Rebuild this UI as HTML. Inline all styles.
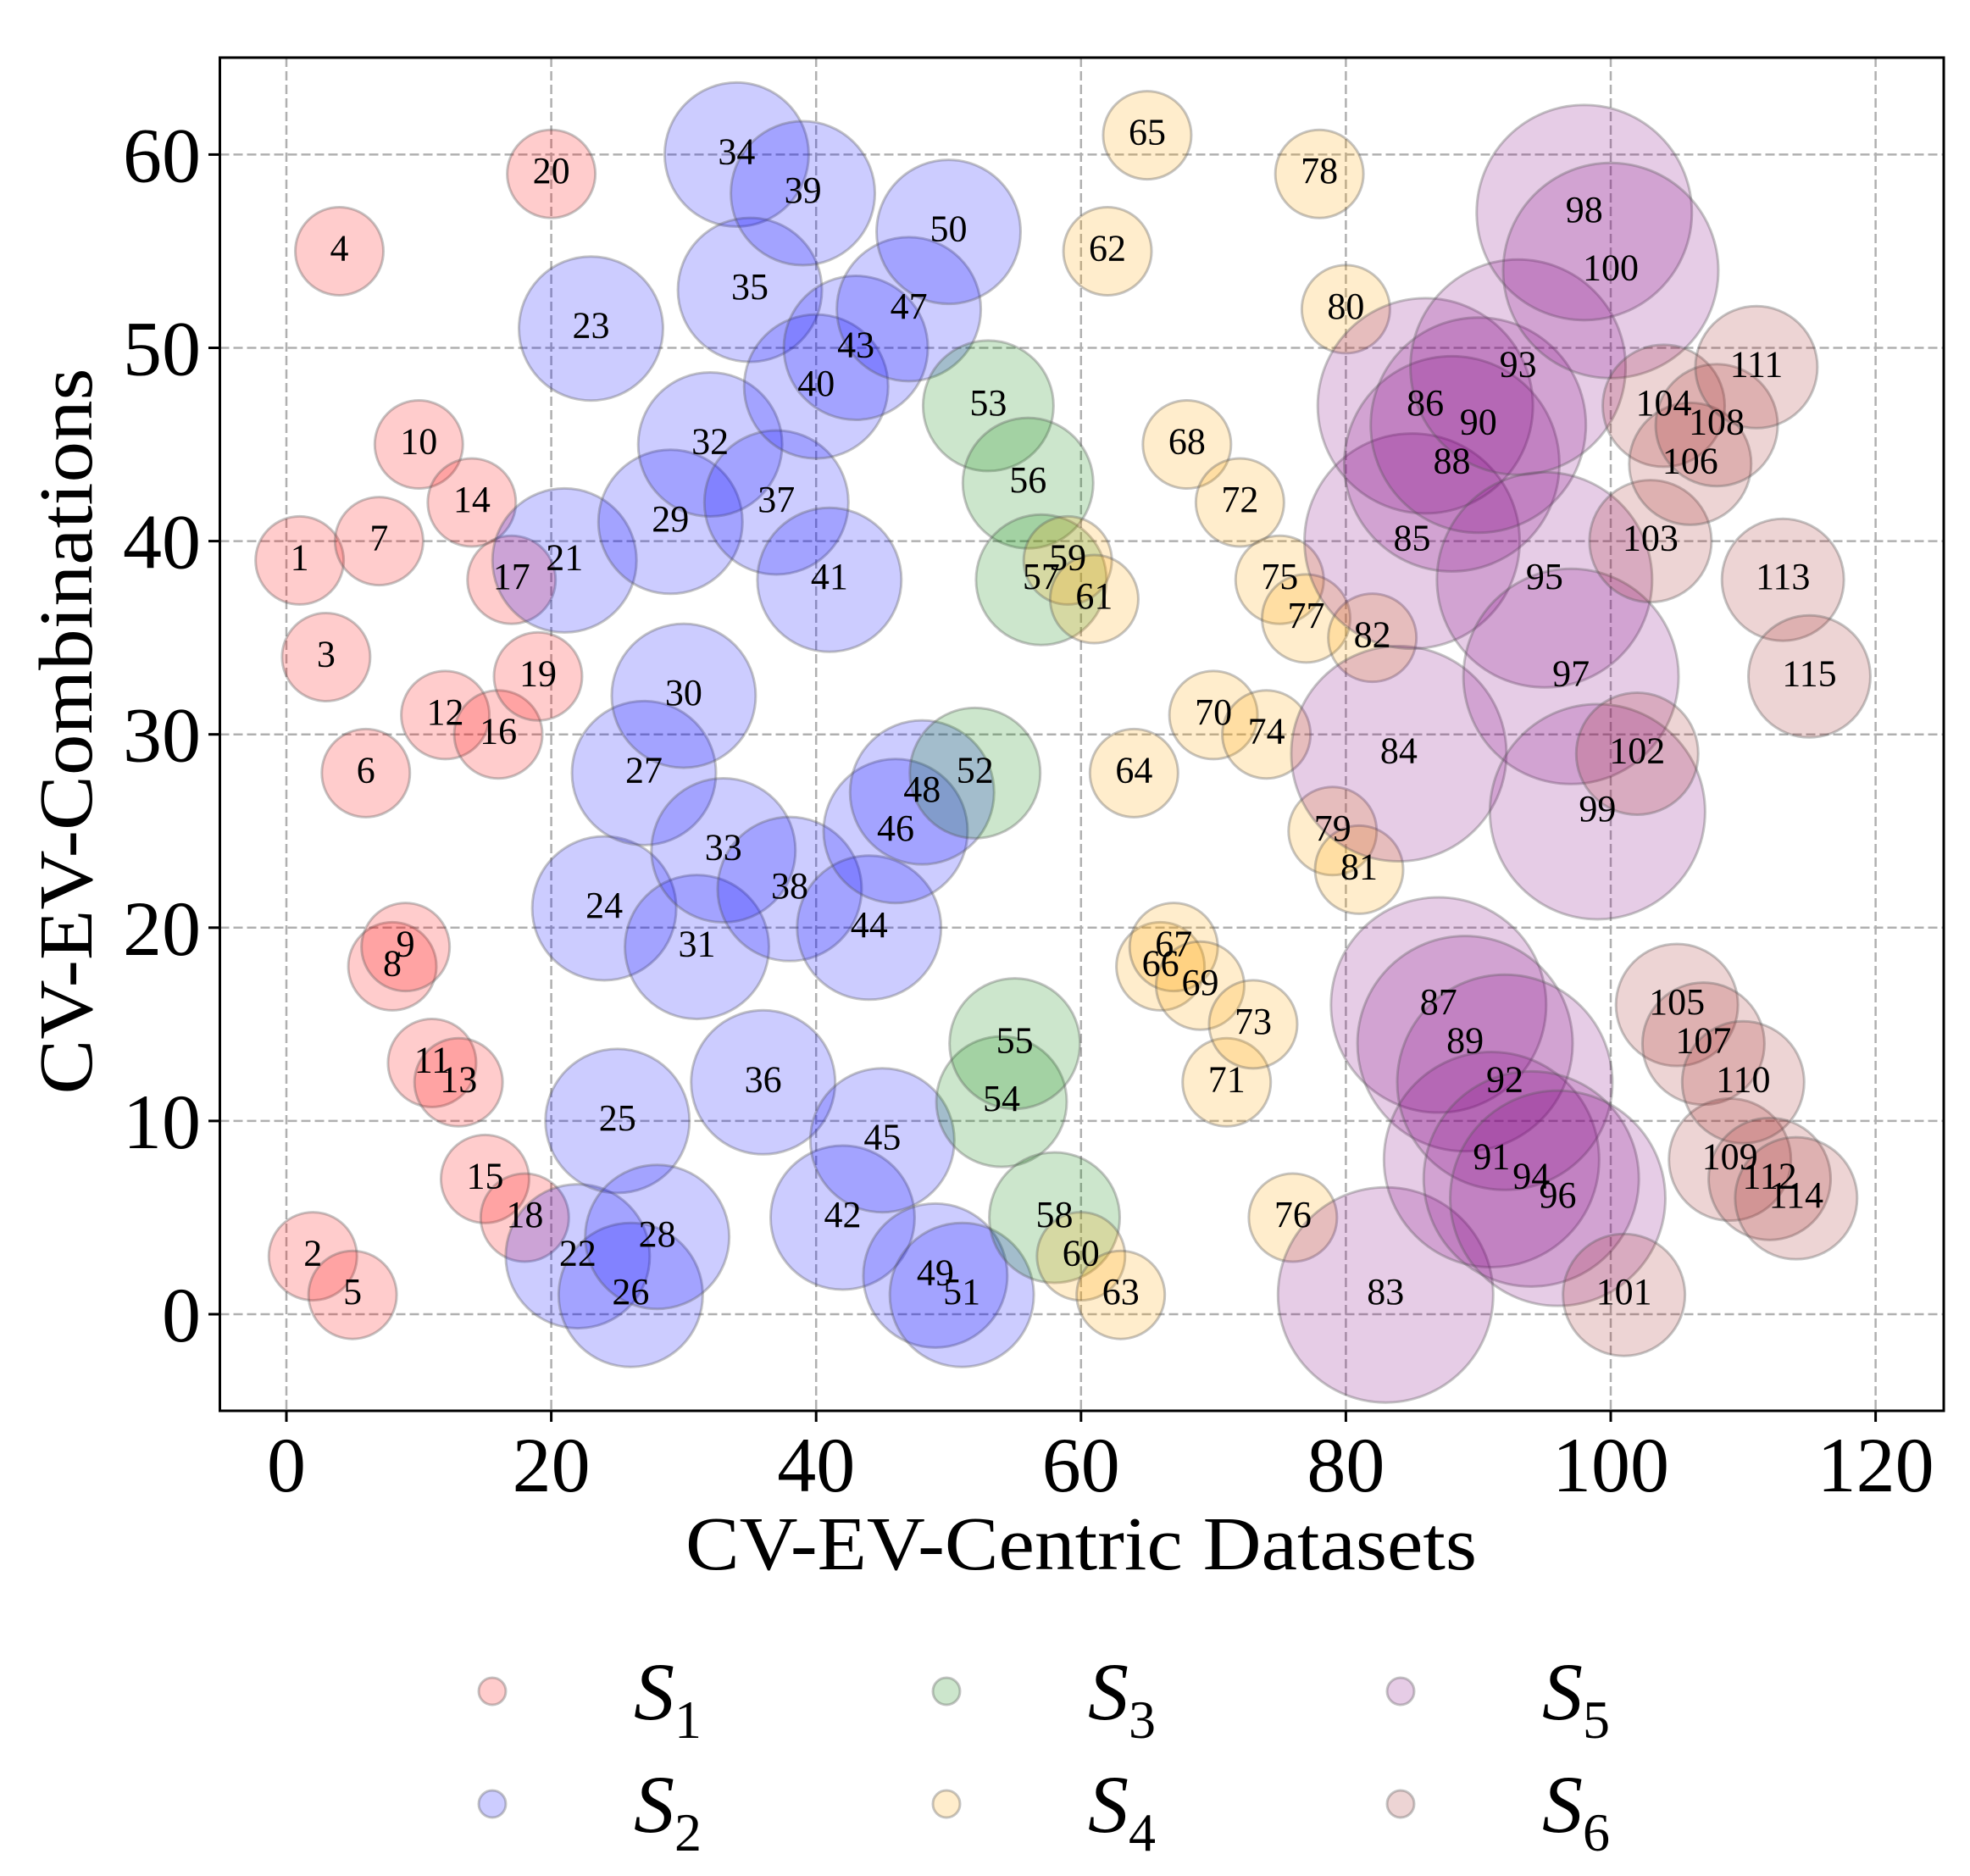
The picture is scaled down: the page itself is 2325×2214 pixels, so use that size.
<!DOCTYPE html>
<html><head><meta charset="utf-8"><style>
html,body{margin:0;padding:0;background:#fff;}
svg{display:block;}
text{font-family:"Liberation Serif","DejaVu Serif",serif;}
</style></head><body>
<svg id="chart" width="2325" height="2214" viewBox="0 0 2325 2214" xmlns="http://www.w3.org/2000/svg">
<rect x="0" y="0" width="2325" height="2214" fill="#fff"/>
<g id="grid"></g>
<g id="bubbles"></g>
<g id="labels"></g>
<rect x="259.5" y="68" width="2034.5" height="1597" fill="none" stroke="#000" stroke-width="3"/>
<g id="axes"></g>
<text x="1276" y="1852" font-size="90" text-anchor="middle" textLength="934" lengthAdjust="spacingAndGlyphs">CV-EV-Centric Datasets</text>
<text x="0" y="0" font-size="90" text-anchor="middle" textLength="857" lengthAdjust="spacingAndGlyphs" transform="translate(108,863) rotate(-90)">CV-EV-Combinations</text>
<g id="legend"></g>
</svg>
<script>
const groupNames = ["S1","S2","S3","S4","S5","S6"];
const groupStarts = [1,21,52,59,83,101];
const groupSizes = [52,85,77,52,127,72];
const yValues = [
39,3,34,55,1,28,40,18,19,45,13,31,12,42,7,30,38,5,33,59,
39,3,51,21,10,1,28,4,41,32,19,45,24,60,53,12,42,22,58,48,38,5,50,20,9,25,52,27,2,56,1,
28,47,11,14,43,38,5,
39,3,37,55,1,28,61,18,19,45,17,31,12,42,15,30,38,5,36,59,25,52,23,35,
1,29,40,47,16,44,14,46,8,12,49,7,38,6,33,57,26,54,
1,29,40,47,16,44,14,46,8,12,49,7,38,6,33
];
const xTicks = [0,20,40,60,80,100,120];
const yTicks = [0,10,20,30,40,50,60];
const fills = ["rgba(255,0,0,0.2)","rgba(0,0,255,0.2)","rgba(0,128,0,0.2)","rgba(255,165,0,0.2)","rgba(128,0,128,0.2)","rgba(165,42,42,0.2)"];
const NS="http://www.w3.org/2000/svg";
const X=v=>338+v*15.63;
const Y=v=>1551-v*22.81;
function mk(tag,attrs,parent){const e=document.createElementNS(NS,tag);for(const k in attrs)e.setAttribute(k,attrs[k]);parent.appendChild(e);return e;}
function groupOf(i){let g=0;for(let k=0;k<groupStarts.length;k++)if(i>=groupStarts[k])g=k;return g;}
const grid=document.getElementById('grid'),axes=document.getElementById('axes');
xTicks.forEach(t=>{
  const l=mk('line',{x1:X(t),x2:X(t),y1:68,y2:1665,stroke:'#b0b0b0','stroke-width':2.5,'stroke-dasharray':'11,5'},grid);
  
  
  const tk=mk('line',{x1:X(t),x2:X(t),y1:1665,y2:1678,stroke:'#000','stroke-width':3},axes);
  
  
  const tx=mk('text',{x:X(t),y:1760,'font-size':92,'text-anchor':'middle'},axes);
  tx.textContent=t;
  
  
});
yTicks.forEach(t=>{
  const l=mk('line',{x1:259.5,x2:2294,y1:Y(t),y2:Y(t),stroke:'#b0b0b0','stroke-width':2.5,'stroke-dasharray':'11,5'},grid);
  
  
  const tk=mk('line',{x1:246,x2:259.5,y1:Y(t),y2:Y(t),stroke:'#000','stroke-width':3},axes);
  
  
  const tx=mk('text',{x:237,y:Y(t)+32,'font-size':92,'text-anchor':'end'},axes);
  tx.textContent=t;
  
  
});
const bub=document.getElementById('bubbles'),lab=document.getElementById('labels');
yValues.forEach((y,k)=>{
  const i=k+1,g=groupOf(i);
  const c=mk('circle',{cx:X(i),cy:Y(y),r:groupSizes[g],fill:fills[g],stroke:'rgba(90,90,90,0.35)','stroke-width':3},bub);
  
  
  const t=mk('text',{x:X(i),y:Y(y)+11,'font-size':44,'text-anchor':'middle'},lab);
  t.textContent=i;
  
  
});
const leg=document.getElementById('legend');
const legX=[581,1117,1653],legY=[1996,2129];
groupNames.forEach((n,g)=>{
  const cx=legX[Math.floor(g/2)],cy=legY[g%2];
  const c=mk('circle',{cx:cx,cy:cy,r:16,fill:fills[g],stroke:'rgba(90,90,90,0.35)','stroke-width':3},leg);
  
  
  const t=mk('text',{x:cx+167,y:cy+33,'font-size':96,'font-style':'italic'},leg);
  
  
  t.appendChild(document.createTextNode('S'));
  const s=mk('tspan',{'font-size':64,'font-style':'normal',dy:22},t);
  s.textContent=n.slice(1);
});
</script>
</body></html>
